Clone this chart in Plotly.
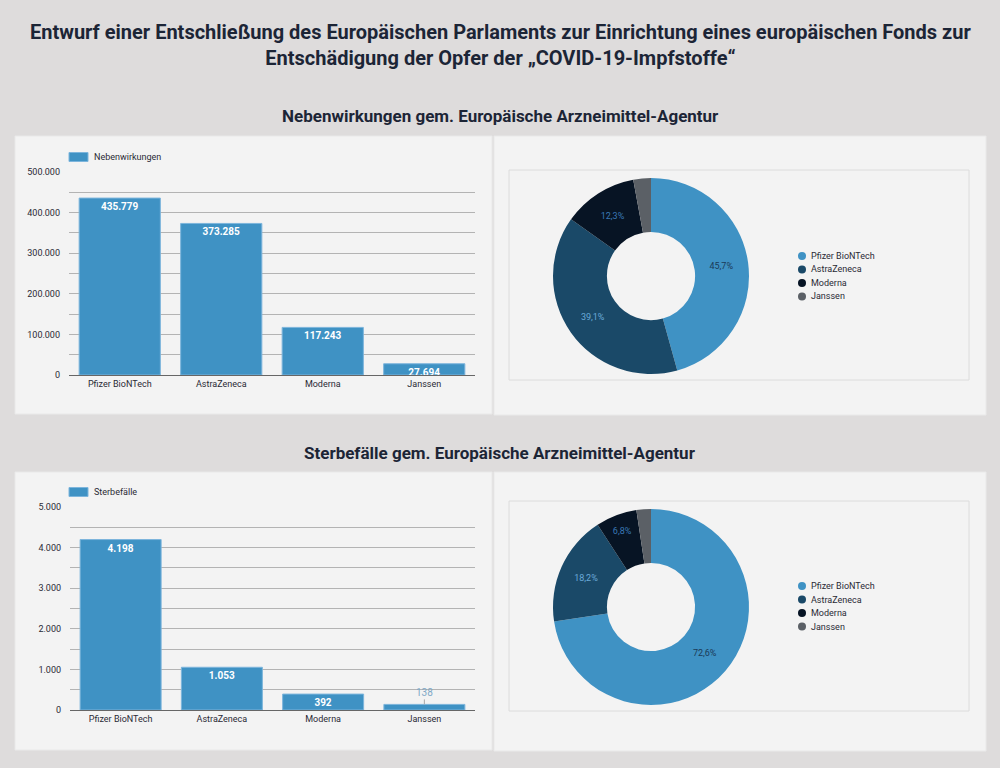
import plotly.graph_objects as go

# Daten (gem. Europäische Arzneimittel-Agentur)
impfstoffe = ["Pfizer BioNTech", "AstraZeneca", "Moderna", "Janssen"]
nebenwirkungen = [435779, 373285, 117243, 27694]
sterbefaelle = [4198, 1053, 392, 138]

titel = ("Entwurf einer Entschließung des Europäischen Parlaments zur Einrichtung eines europäischen Fonds zur<br>"
         "Entschädigung der Opfer der „COVID-19-Impfstoffe“")
titel_oben = "Nebenwirkungen gem. Europäische Arzneimittel-Agentur"
titel_unten = "Sterbefälle gem. Europäische Arzneimittel-Agentur"

BLAU = "#3f92c4"
pie_farben = ["#3f92c4", "#1a4968", "#071424", "#5b6066"]
pie_textfarben = ["#1b3a58", "#6aaad8", "#3a78b5", "#ffffff"]
SCHRIFT = "Roboto"
GRAU_TEXT = "#2a2a35"
GITTER = "#b3b3b3"
W, H = 1000, 768


def px_x(x):
    return x / W


def px_y(y):
    # Pixel von oben -> Papierkoordinate
    return 1 - y / H


fig = go.Figure()

# Balken oben
fig.add_trace(go.Bar(
    x=impfstoffe, y=nebenwirkungen, name="Nebenwirkungen",
    marker=dict(color=BLAU, line=dict(color="#7db5dc", width=1)),
    texttemplate="%{y:,}", textposition="inside", insidetextanchor="end",
    constraintext="none", textangle=0,
    textfont=dict(color="white", size=10, family=SCHRIFT, weight="bold"),
    xaxis="x", yaxis="y", showlegend=False,
))

# Balken unten (Janssen-Wert separat mit Linie)
fig.add_trace(go.Bar(
    x=impfstoffe, y=sterbefaelle, name="Sterbefälle",
    marker=dict(color=BLAU, line=dict(color="#7db5dc", width=1)),
    texttemplate=["%{y:,}", "%{y:,}", "%{y:,}", ""], textposition="inside",
    insidetextanchor="end", constraintext="none", textangle=0,
    textfont=dict(color="white", size=10, family=SCHRIFT, weight="bold"),
    xaxis="x2", yaxis="y2", showlegend=False,
))

# Donuts
for werte, ymitte in [(nebenwirkungen, 276), (sterbefaelle, 607)]:
    fig.add_trace(go.Pie(
        labels=impfstoffe, values=werte, hole=0.45, sort=False,
        direction="clockwise", rotation=0,
        marker=dict(colors=pie_farben, line=dict(width=0)),
        texttemplate=["%{percent:.1%}", "%{percent:.1%}", "%{percent:.1%}", ""],
        textposition="inside", insidetextorientation="horizontal",
        textfont=dict(color=pie_textfarben, size=9, family=SCHRIFT),
        domain=dict(x=[px_x(651 - 98), px_x(651 + 98)],
                    y=[px_y(ymitte + 98), px_y(ymitte - 98)]),
        showlegend=False, hoverinfo="label+value+percent", automargin=False,
    ))

shapes = []
annotations = []

# Hintergrundflächen
for oben, unten in [(136, 414), (472, 750)]:
    shapes.append(dict(type="rect", xref="paper", yref="paper", x0=px_x(15), x1=px_x(492),
                       y0=px_y(unten), y1=px_y(oben), fillcolor="#f3f3f3",
                       line=dict(color="#e9e9e9", width=1), layer="below"))
    shapes.append(dict(type="rect", xref="paper", yref="paper", x0=px_x(494), x1=px_x(986),
                       y0=px_y(unten + 1), y1=px_y(oben), fillcolor="#f3f3f3",
                       line=dict(color="#e9e9e9", width=1), layer="below"))
for oben, unten in [(170, 380), (501, 711)]:
    shapes.append(dict(type="rect", xref="paper", yref="paper", x0=px_x(509), x1=px_x(969),
                       y0=px_y(unten), y1=px_y(oben), fillcolor="rgba(0,0,0,0)",
                       line=dict(color="#dcdcdc", width=1), layer="below"))

# Legenden der Balken (Rechteck + Text)
for name, ymitte in [("Nebenwirkungen", 157), ("Sterbefälle", 492)]:
    shapes.append(dict(type="rect", xref="paper", yref="paper", x0=px_x(69), x1=px_x(88),
                       y0=px_y(ymitte + 4.5), y1=px_y(ymitte - 4.5), fillcolor=BLAU,
                       line=dict(color="#7db5dc", width=1)))
    annotations.append(dict(text=name, x=px_x(92), y=px_y(ymitte), xref="paper", yref="paper",
                            xanchor="left", yanchor="middle", showarrow=False,
                            font=dict(size=9, color=GRAU_TEXT, family=SCHRIFT)))

# Legenden der Donuts (Punkte + Text)
for ystart in [256, 586]:
    for i, (name, farbe) in enumerate(zip(impfstoffe, pie_farben)):
        yi = ystart + i * 13.5
        shapes.append(dict(type="circle", xref="paper", yref="paper",
                           x0=px_x(798), x1=px_x(806), y0=px_y(yi + 4), y1=px_y(yi - 4),
                           fillcolor=farbe, line=dict(width=0)))
        annotations.append(dict(text=name, x=px_x(809), y=px_y(yi), xref="paper", yref="paper",
                                xanchor="left", yanchor="middle", showarrow=False,
                                font=dict(size=9, color=GRAU_TEXT, family=SCHRIFT)))

annotations += [
    dict(text=f"<b>{titel}</b>", x=0.5, y=px_y(45), xref="paper", yref="paper",
         xanchor="center", yanchor="middle", showarrow=False,
         font=dict(size=20, color="#1c2536", family=SCHRIFT)),
    dict(text=f"<b>{titel_oben}</b>", x=0.5, y=px_y(116), xref="paper", yref="paper",
         xanchor="center", yanchor="middle", showarrow=False,
         font=dict(size=17, color="#1c2536", family=SCHRIFT)),
    dict(text=f"<b>{titel_unten}</b>", x=0.5, y=px_y(453), xref="paper", yref="paper",
         xanchor="center", yanchor="middle", showarrow=False,
         font=dict(size=17, color="#1c2536", family=SCHRIFT)),
    dict(text=f"{sterbefaelle[3]:,}".replace(",", "."), x=impfstoffe[3], y=sterbefaelle[3],
         xref="x2", yref="y2", showarrow=True, arrowhead=0, arrowwidth=1,
         arrowcolor="#a9a9a9", ax=0, ay=-12,
         font=dict(size=10, color="#7fa8c6", family=SCHRIFT)),
]

achse_x = dict(type="category", showline=True, linecolor="#666666", linewidth=1,
               showgrid=False, ticks="", tickfont=dict(size=9, color=GRAU_TEXT, family=SCHRIFT),
               fixedrange=True, automargin=False)
achse_y = dict(showgrid=True, gridcolor=GITTER, gridwidth=1, zeroline=False,
               ticks="", tickfont=dict(size=9, color=GRAU_TEXT, family=SCHRIFT),
               ticklabelstandoff=8, fixedrange=True, automargin=False)

fig.update_layout(
    width=W, height=H,
    margin=dict(l=0, r=0, t=0, b=0, autoexpand=False),
    paper_bgcolor="#dedcdc", plot_bgcolor="rgba(0,0,0,0)",
    separators=",.",
    bargap=0.2,
    showlegend=False,
    font=dict(family=SCHRIFT),
    xaxis=dict(achse_x, domain=[px_x(69), px_x(475)], anchor="y"),
    yaxis=dict(achse_y, domain=[px_y(375), px_y(172)], range=[0, 500000], dtick=100000,
               tickformat=",", minor=dict(dtick=50000, showgrid=True, gridcolor=GITTER),
               anchor="x"),
    xaxis2=dict(achse_x, domain=[px_x(70), px_x(475)], anchor="y2"),
    yaxis2=dict(achse_y, domain=[px_y(710), px_y(507)], range=[0, 5000], dtick=1000,
                tickformat=",", minor=dict(dtick=500, showgrid=True, gridcolor=GITTER),
                anchor="x2"),
    shapes=shapes,
    annotations=annotations,
)

fig.write_html(
    "out.html",
    config={"displayModeBar": False},
    post_script=("document.body.style.margin='0';"
                 "document.body.style.background='#dedcdc';"
                 "document.documentElement.style.overflow='hidden';"),
)
